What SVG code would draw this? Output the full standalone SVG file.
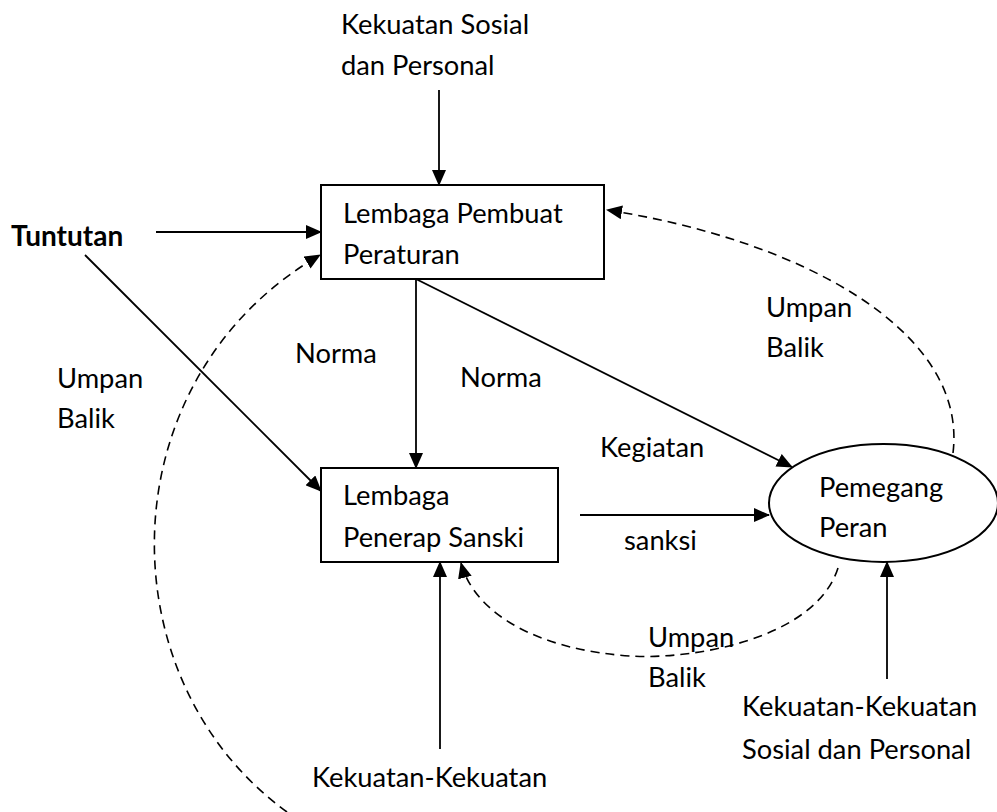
<svg xmlns="http://www.w3.org/2000/svg" width="997" height="812" viewBox="0 0 997 812">
<defs>
<marker id="ah" markerUnits="userSpaceOnUse" markerWidth="16" markerHeight="14" refX="15" refY="7" orient="auto">
<path d="M0,0 L16,7 L0,14 Z" fill="#000"/>
</marker>
<style>
text{font-family:Lato,"Open Sans","Liberation Sans",sans-serif;font-size:27.3px;fill:#000}
.b{font-weight:bold;font-size:28px}
.box{fill:#fff;stroke:#000;stroke-width:2}
.ln{fill:none;stroke:#000;stroke-width:1.8}
.da{fill:none;stroke:#000;stroke-width:1.6;stroke-dasharray:9 6}
</style>
</defs>
<rect width="997" height="812" fill="#fff"/>
<g id="connectors">
<line class="ln" x1="439" y1="90" x2="439" y2="185" marker-end="url(#ah)"/>
<line class="ln" x1="156" y1="232" x2="321" y2="232" marker-end="url(#ah)"/>
<line class="ln" x1="85" y1="255" x2="321" y2="491" marker-end="url(#ah)"/>
<line class="ln" x1="416" y1="279" x2="416" y2="468" marker-end="url(#ah)"/>
<line class="ln" x1="416" y1="279" x2="792" y2="467" marker-end="url(#ah)"/>
<line class="ln" x1="580" y1="515" x2="769" y2="515" marker-end="url(#ah)"/>
<line class="ln" x1="440" y1="749" x2="440" y2="562" marker-end="url(#ah)"/>
<line class="ln" x1="887" y1="679" x2="887" y2="562" marker-end="url(#ah)"/>
<path class="da" d="M953,453 C968,330 800,240 607,210" marker-end="url(#ah)"/>
<path class="da" d="M838,568 C815,640 690,660 630,656 C540,650 475,615 461,563" marker-end="url(#ah)"/>
<path class="da" d="M287,812 C105,680 105,380 320,255" marker-end="url(#ah)"/>
</g>
<g id="kekuatan-top">
<text x="341" y="34">Kekuatan Sosial</text>
<text x="341" y="75">dan Personal</text>
</g>
<g id="tuntutan">
<text class="b" x="11" y="246">Tuntutan</text>
</g>
<g id="pembuat">
<rect class="box" x="321" y="185" width="283" height="94"/>
<text x="343" y="223">Lembaga Pembuat</text>
<text x="343" y="264">Peraturan</text>
</g>
<g id="penerap">
<rect class="box" x="321" y="468" width="237" height="94"/>
<text x="343" y="505">Lembaga</text>
<text x="343" y="547">Penerap Sanski</text>
</g>
<g id="pemegang">
<ellipse class="box" cx="883.5" cy="503" rx="114.5" ry="59"/>
<text x="819" y="497">Pemegang</text>
<text x="819" y="537">Peran</text>
</g>
<g id="labels">
<text x="57" y="388">Umpan</text>
<text x="57" y="428">Balik</text>
<text x="295" y="363">Norma</text>
<text x="460" y="387">Norma</text>
<text x="766" y="317">Umpan</text>
<text x="766" y="357">Balik</text>
<text x="600" y="457">Kegiatan</text>
<text x="624" y="550">sanksi</text>
<text x="648" y="647">Umpan</text>
<text x="648" y="687">Balik</text>
</g>
<g id="kekuatan-bottom">
<text x="312" y="787">Kekuatan-Kekuatan</text>
</g>
<g id="kekuatan-right">
<text x="742" y="716">Kekuatan-Kekuatan</text>
<text x="742" y="759">Sosial dan Personal</text>
</g>
</svg>
